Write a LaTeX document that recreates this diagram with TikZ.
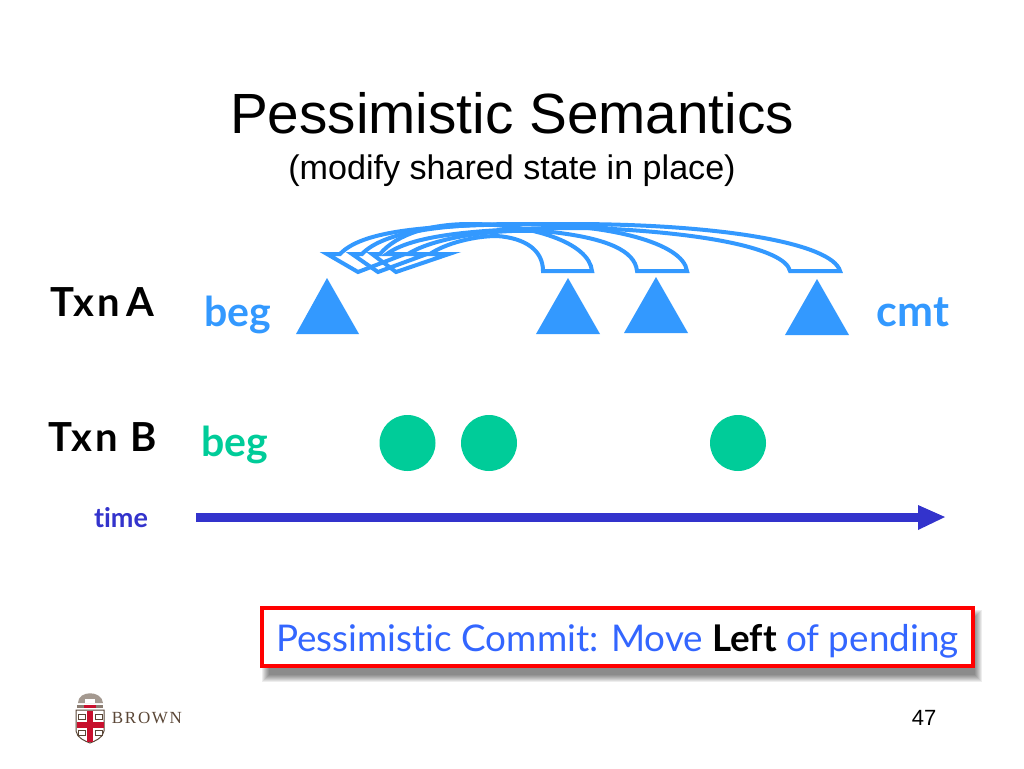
\documentclass[tikz,border=0pt]{standalone}
\usepackage{fontspec}
\setmainfont{Liberation Sans}
\newfontfamily\gill[Ligatures=CommonOff]{Lato}
\newfontfamily\gilltxn[Ligatures=CommonOff,LetterSpace=7]{Lato}
\newfontfamily\serifb[LetterSpace=10]{Liberation Serif}
\definecolor{ablue}{HTML}{3399FF}
\definecolor{bgreen}{HTML}{00CC99}
\definecolor{tblue}{HTML}{3333CC}
\definecolor{cblue}{HTML}{3366FF}
\definecolor{brred}{HTML}{C8102E}
\definecolor{brbrown}{HTML}{5A4636}
\tikzset{
  lbl/.style={inner sep=0pt,anchor=base},
  tri/.style={fill=ablue,draw=none},
  dotb/.style={circle,fill=bgreen,draw=none,minimum size=56pt,inner sep=0pt},
  blockarrow/.style={draw=ablue,line width=4pt,miter limit=10,line join=miter},
}
\begin{document}
\begin{tikzpicture}[x=1pt,y=-1pt]
\useasboundingbox (0,0) rectangle (1024,768);
\fill[white] (0,0) rectangle (1024,768);
% titles
\node[lbl] (title) at (512,133) {\fontsize{56.7}{60}\selectfont Pessimistic Semantics};
\node[lbl] (subtitle) at (512,179) {\fontsize{34.1}{38}\selectfont (modify shared state in place)};
% labels
\node[lbl] (txna) at (102.5,316) {\gilltxn\bfseries\fontsize{40}{44}\selectfont Txn\,A};
\node[lbl] (txnb) at (102.5,451) {\gilltxn\bfseries\fontsize{40}{44}\selectfont Txn B};
\node[lbl,text=ablue] (bega) at (238,326) {\gill\bfseries\fontsize{41}{44}\selectfont beg};
\node[lbl,text=ablue] (cmta) at (913,326) {\gill\bfseries\fontsize{43}{46}\selectfont cmt};
\node[lbl,text=bgreen] (begb) at (234.5,456) {\gill\bfseries\fontsize{41}{44}\selectfont beg};
\node[lbl,text=tblue] (timel) at (121,527) {\gill\bfseries\fontsize{27}{30}\selectfont time};
% triangles
\fill[tri] (327,278) -- (296,334) -- (359,334) -- cycle;
\fill[tri] (568,278) -- (536,334) -- (600,334) -- cycle;
\fill[tri] (656,277) -- (624,333) -- (688,333) -- cycle;
\fill[tri] (817,279) -- (785,335) -- (849,335) -- cycle;
% circles
\node[dotb] (c1) at (407.5,443) {};
\node[dotb] (c2) at (489,443) {};
\node[dotb] (c3) at (738,443) {};
% time arrow
\coordinate (ts) at (196,517);
\coordinate (te) at (920,517);
\coordinate (tip) at (945,517);
\draw[tblue,line width=9pt] (ts) -- (te);
\fill[tblue] (918,505) -- (tip) -- (918,530) -- cycle;
% block arrows
\draw[blockarrow] (543,271) -- (592,271)
  .. controls (589,242) and (530,224) .. (470,224)
  .. controls (430,224) and (397,234) .. (380,254)
  -- (372,254) -- (396,272) -- (449,254) -- (430,254)
  .. controls (446,243) and (475,236) .. (497,236)
  .. controls (525,238) and (543,250) .. cycle;
\draw[blockarrow] (637,271) -- (687,271)
  .. controls (683,243) and (610,224) .. (520,224)
  .. controls (440,224) and (383,232) .. (362,254)
  -- (352,254) -- (378,272) -- (427,254) -- (408,254)
  .. controls (436,236) and (510,226) .. (560,233)
  .. controls (605,239) and (635,250) .. cycle;
\draw[blockarrow] (790,271) -- (840,271)
  .. controls (832,243) and (720,224) .. (570,224)
  .. controls (440,224) and (365,228) .. (340,254)
  -- (327,254) -- (358,272) -- (405,254) -- (387,254)
  .. controls (416,232) and (500,228) .. (590,228)
  .. controls (700,232) and (785,248) .. cycle;
% callout box with soft shadow
\foreach \g in {0,1,2,3,4,5,6,7}
  \fill[black,opacity=0.07] (262+\g,610+\g) rectangle (982-\g,682-\g);
\node[draw=red,fill=white,line width=4pt,inner sep=0pt,minimum width=711pt,minimum height=58pt] (box) at (617.5,636.5) {};
\node[lbl,text=cblue] (boxtext) at (617.5,651) {\gill\fontsize{36.8}{40}\selectfont Pessimistic Commit: Move {\bfseries\color{black}Left} of pending};
% page number
\node[lbl] (pagenum) at (924,725) {\fontsize{22}{24}\selectfont 47};
% logo
\node[lbl,text=brbrown] (brown) at (147,723) {\serifb\fontsize{17}{20}\selectfont BROWN};
\draw[brbrown,line width=1pt,fill=white] (76,710) -- (104,710) -- (104,731) .. controls (103,738) and (95,741) .. (90,743) .. controls (85,741) and (77,738) .. (76,731) -- cycle;
\fill[brred] (87,710.5) rectangle (93,742);
\fill[brred] (76.5,722) rectangle (103.5,728);
\foreach \px/\py in {78/714,95/714,78/730,95/730}
  \draw[brbrown,line width=0.8pt] (\px,\py) rectangle ++(7,5);
\fill[brbrown!70] (77,708) -- (103,708) -- (103,705) -- (77,705) -- cycle;
\fill[brred] (84,705) rectangle (96,708);
\fill[brbrown!55] (78,703) .. controls (78,690) and (102,690) .. (103,703) -- cycle;
\fill[white] (85,699) rectangle (95,703);
\end{tikzpicture}
\end{document}
